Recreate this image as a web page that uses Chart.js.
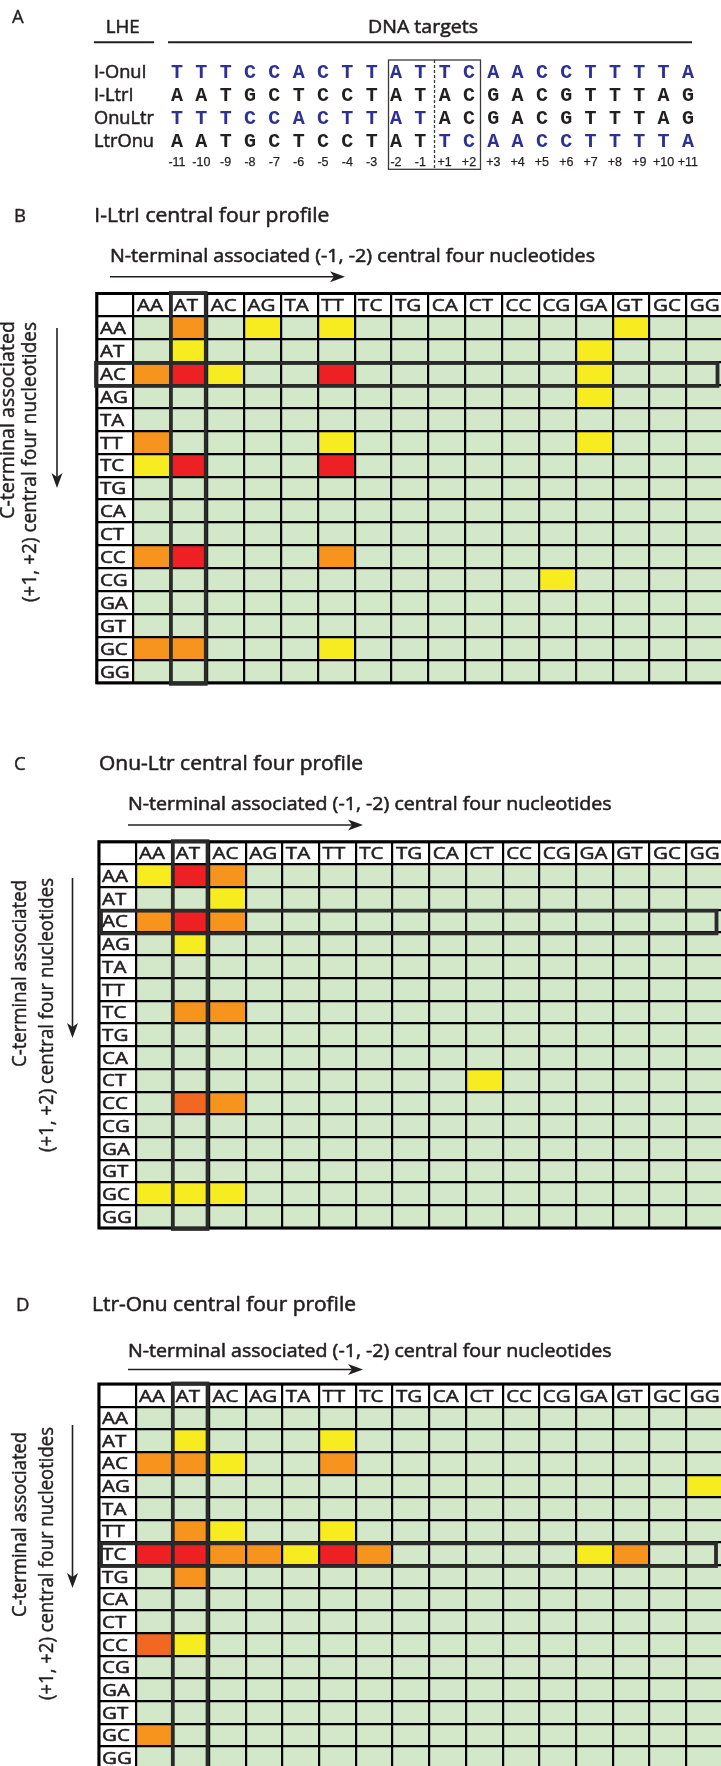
<!DOCTYPE html>
<html>
<head>
<meta charset="utf-8">
<title>Central four profiles</title>
<script src="https://cdn.jsdelivr.net/npm/chart.js@4.4.1/dist/chart.umd.min.js"></script>
<style>
  html, body { margin: 0; padding: 0; background: #fff; }
  body { position: relative; width: 721px; height: 1766px; overflow: hidden; }
  canvas { position: absolute; left: 0; }
  #notes { top: 0; z-index: 2; pointer-events: none; }
</style>
</head>
<body>
<canvas id="notes" width="721" height="1766"></canvas>
<canvas id="panelB"></canvas>
<canvas id="panelC"></canvas>
<canvas id="panelD"></canvas>
<script>
// columns = N-terminal (-1,-2) pair, rows = C-terminal (+1,+2) pair
const dinucs = ["AA", "AT", "AC", "AG", "TA", "TT", "TC", "TG", "CA", "CT", "CC", "CG", "GA", "GT", "GC", "GG"];
// 0 = none, 1 = yellow, 2 = orange, 3 = dark orange, 4 = red
const levelColors = ["#d3e8c9", "#f7ec20", "#f7941d", "#f26722", "#ed2024"];

const ltrLevels = [
  [0,2,0,1,0,1,0,0,0,0,0,0,0,1,0,0],
  [0,1,0,0,0,0,0,0,0,0,0,0,1,0,0,0],
  [2,4,1,0,0,4,0,0,0,0,0,0,1,0,0,0],
  [0,0,0,0,0,0,0,0,0,0,0,0,1,0,0,0],
  [0,0,0,0,0,0,0,0,0,0,0,0,0,0,0,0],
  [2,0,0,0,0,1,0,0,0,0,0,0,1,0,0,0],
  [1,4,0,0,0,4,0,0,0,0,0,0,0,0,0,0],
  [0,0,0,0,0,0,0,0,0,0,0,0,0,0,0,0],
  [0,0,0,0,0,0,0,0,0,0,0,0,0,0,0,0],
  [0,0,0,0,0,0,0,0,0,0,0,0,0,0,0,0],
  [2,4,0,0,0,2,0,0,0,0,0,0,0,0,0,0],
  [0,0,0,0,0,0,0,0,0,0,0,1,0,0,0,0],
  [0,0,0,0,0,0,0,0,0,0,0,0,0,0,0,0],
  [0,0,0,0,0,0,0,0,0,0,0,0,0,0,0,0],
  [2,2,0,0,0,1,0,0,0,0,0,0,0,0,0,0],
  [0,0,0,0,0,0,0,0,0,0,0,0,0,0,0,0],
];

const onuLtrLevels = [
  [1,4,2,0,0,0,0,0,0,0,0,0,0,0,0,0],
  [0,0,1,0,0,0,0,0,0,0,0,0,0,0,0,0],
  [2,4,2,0,0,0,0,0,0,0,0,0,0,0,0,0],
  [0,1,0,0,0,0,0,0,0,0,0,0,0,0,0,0],
  [0,0,0,0,0,0,0,0,0,0,0,0,0,0,0,0],
  [0,0,0,0,0,0,0,0,0,0,0,0,0,0,0,0],
  [0,2,2,0,0,0,0,0,0,0,0,0,0,0,0,0],
  [0,0,0,0,0,0,0,0,0,0,0,0,0,0,0,0],
  [0,0,0,0,0,0,0,0,0,0,0,0,0,0,0,0],
  [0,0,0,0,0,0,0,0,0,1,0,0,0,0,0,0],
  [0,3,2,0,0,0,0,0,0,0,0,0,0,0,0,0],
  [0,0,0,0,0,0,0,0,0,0,0,0,0,0,0,0],
  [0,0,0,0,0,0,0,0,0,0,0,0,0,0,0,0],
  [0,0,0,0,0,0,0,0,0,0,0,0,0,0,0,0],
  [1,1,1,0,0,0,0,0,0,0,0,0,0,0,0,0],
  [0,0,0,0,0,0,0,0,0,0,0,0,0,0,0,0],
];

const ltrOnuLevels = [
  [0,0,0,0,0,0,0,0,0,0,0,0,0,0,0,0],
  [0,1,0,0,0,1,0,0,0,0,0,0,0,0,0,0],
  [2,2,1,0,0,2,0,0,0,0,0,0,0,0,0,0],
  [0,0,0,0,0,0,0,0,0,0,0,0,0,0,0,1],
  [0,0,0,0,0,0,0,0,0,0,0,0,0,0,0,0],
  [0,2,1,0,0,1,0,0,0,0,0,0,0,0,0,0],
  [4,4,2,2,1,4,2,0,0,0,0,0,1,2,0,0],
  [0,2,0,0,0,0,0,0,0,0,0,0,0,0,0,0],
  [0,0,0,0,0,0,0,0,0,0,0,0,0,0,0,0],
  [0,0,0,0,0,0,0,0,0,0,0,0,0,0,0,0],
  [3,1,0,0,0,0,0,0,0,0,0,0,0,0,0,0],
  [0,0,0,0,0,0,0,0,0,0,0,0,0,0,0,0],
  [0,0,0,0,0,0,0,0,0,0,0,0,0,0,0,0],
  [0,0,0,0,0,0,0,0,0,0,0,0,0,0,0,0],
  [2,0,0,0,0,0,0,0,0,0,0,0,0,0,0,0],
  [0,0,0,0,0,0,0,0,0,0,0,0,0,0,0,0],
];

// panel A
const lheNames = ["I-OnuI", "I-LtrI", "OnuLtr", "LtrOnu"];
const targetSeqs = [
  "TTTCCACTTATTCAACCTTTTA",
  "AATGCTCCTATACGACGTTTAG",
  "TTTCCACTTATACGACGTTTAG",
  "AATGCTCCTATTCAACCTTTTA",
];
// which parent each half of the target comes from
const halfSource = [["OnuI", "OnuI"], ["LtrI", "LtrI"], ["OnuI", "LtrI"], ["LtrI", "OnuI"]];
const sitePositions = ["-11", "-10", "-9", "-8", "-7", "-6", "-5", "-4", "-3", "-2", "-1",
                       "+1", "+2", "+3", "+4", "+5", "+6", "+7", "+8", "+9", "+10", "+11"];

const SANS = '"Open Sans", "Liberation Sans", Arial, sans-serif';
const MONO = '"Liberation Mono", "DejaVu Sans Mono", monospace';
const INK = "#231f20";
const BLUE = "#2e3192";
const FRAME = "#2a2a2a";

function textWidth(ctx, text, size, family, weight) {
  ctx.save();
  ctx.font = `${weight || "normal"} ${size}px ${family || SANS}`;
  const w = ctx.measureText(text).width;
  ctx.restore();
  return w;
}

function put(ctx, text, x, y, o) {
  ctx.save();
  ctx.font = `${o.weight || "normal"} ${o.size}px ${o.family || SANS}`;
  ctx.fillStyle = ctx.strokeStyle = o.color || INK;
  ctx.textBaseline = o.baseline || "alphabetic";
  ctx.translate(x, y);
  if (o.rotate) ctx.rotate(o.rotate);
  const w = ctx.measureText(text).width;
  ctx.scale(o.width ? o.width / w : (o.sx || 1), o.sy || 1);
  const a = o.align || "left";
  const tx = a === "center" ? -w / 2 : a === "right" ? -w : 0;
  ctx.fillText(text, tx, 0);
  if (o.stroke) {
    ctx.lineWidth = o.stroke;
    ctx.lineJoin = "round";
    ctx.strokeText(text, tx, 0);
  }
  ctx.restore();
}

function arrow(ctx, x0, y0, x1, y1) {
  const a = Math.atan2(y1 - y0, x1 - x0);
  ctx.save();
  ctx.strokeStyle = ctx.fillStyle = INK;
  ctx.lineWidth = 1.6;
  ctx.beginPath();
  ctx.moveTo(x0, y0);
  ctx.lineTo(x1 - 10 * Math.cos(a), y1 - 10 * Math.sin(a));
  ctx.stroke();
  ctx.translate(x1, y1);
  ctx.rotate(a);
  ctx.beginPath();
  ctx.moveTo(0, 0);
  ctx.lineTo(-15, -5.5);
  ctx.lineTo(-11, 0);
  ctx.lineTo(-15, 5.5);
  ctx.closePath();
  ctx.fill();
  ctx.restore();
}

const cellFont = 17.2;
const cellSx = 26 / textWidth(document.createElement("canvas").getContext("2d"), "AA", cellFont);
const HEAVY = 0.55;

const tableText = {
  id: "tableText",
  afterDraw(chart, args, opts) {
    const { ctx, chartArea: area } = chart;
    const xs = chart.scales.x, ys = chart.scales.y;
    const band = xs.getPixelForValue(1) - xs.getPixelForValue(0);
    const left = i => xs.getPixelForValue(i) - band / 2;
    const mid = i => (ys.getPixelForValue(i) + ys.getPixelForValue(i + 1)) / 2;
    const lift = cellFont * 0.36;

    ctx.save();
    ctx.strokeStyle = "#000";
    ctx.lineWidth = 3;
    ctx.strokeRect(area.left, area.top, area.right - area.left, area.bottom - area.top);
    ctx.restore();

    dinucs.forEach((d, i) => {
      put(ctx, d, left(i + 1) + 3.4, mid(0) + lift, { size: cellFont, sx: cellSx, stroke: HEAVY });
      put(ctx, d, left(0) + 3.2, mid(i + 1) + lift, { size: cellFont, sx: cellSx, stroke: HEAVY });
    });

    ctx.save();
    ctx.strokeStyle = FRAME;
    ctx.lineWidth = 3.8;
    const c = dinucs.indexOf(opts.col) + 1;
    ctx.strokeRect(left(c) + 0.5, area.top - 0.5, band - 2, area.bottom - area.top + 1.5);
    const r = dinucs.indexOf(opts.row) + 1;
    const y0 = ys.getPixelForValue(r), y1 = ys.getPixelForValue(r + 1);
    ctx.strokeRect(opts.rowLeft, y0 + 0.8, opts.rowRight - opts.rowLeft, y1 - y0);
    ctx.restore();
  },
};

function heatmap(id, levels, box, hi) {
  const canvas = document.getElementById(id);
  const top = Math.floor(box.top - 6);
  const bottom = box.top + 17 * box.rowH;
  const W = 730;
  canvas.width = W;
  canvas.height = Math.ceil(bottom - top + 6);
  canvas.style.top = top + "px";

  const datasets = levels.map((row, r) => ({
    data: row.map((lv, c) => ({ x: dinucs[c], y: [r + 1, r + 2] })),
    backgroundColor: row.map(lv => levelColors[lv]),
    grouped: false,
    barPercentage: 1,
    categoryPercentage: 1,
    borderWidth: 0,
  }));

  const grid = { color: "#000", lineWidth: 2.2, drawTicks: false, z: 1 };

  return new Chart(canvas, {
    type: "bar",
    data: { labels: [" ", ...dinucs], datasets },
    options: {
      responsive: false,
      animation: false,
      devicePixelRatio: 1,
      layout: {
        padding: {
          left: box.left,
          top: box.top - top,
          right: W - box.right,
          bottom: canvas.height - (bottom - top),
        },
      },
      plugins: {
        legend: { display: false },
        tooltip: { enabled: false },
        tableText: hi,
      },
      scales: {
        x: {
          type: "category",
          offset: true,
          grid: { ...grid, offset: true },
          border: { display: false },
          ticks: { display: false },
          afterFit: s => { s.height = 0; },
        },
        y: {
          type: "linear",
          min: 0,
          max: 17,
          reverse: true,
          grid,
          border: { display: false },
          ticks: { display: false, stepSize: 1 },
          afterFit: s => { s.width = 0; },
        },
      },
    },
    plugins: [tableText],
  });
}

heatmap("panelB", ltrLevels,
  { left: 96.7, top: 293.5, right: 723.3, rowH: 22.9 },
  { col: "AT", row: "AC", rowLeft: 96, rowRight: 717.5 });
heatmap("panelC", onuLtrLevels,
  { left: 98.9, top: 841.7, right: 723, rowH: 22.72 },
  { col: "AT", row: "AC", rowLeft: 101, rowRight: 716.5 });
heatmap("panelD", ltrOnuLevels,
  { left: 98.9, top: 1384, right: 723, rowH: 22.65 },
  { col: "AT", row: "TC", rowLeft: 101, rowRight: 716 });

// ---- annotations ----
const ctx = document.getElementById("notes").getContext("2d");

// panel A
put(ctx, "A", 12, 23, { size: 18.5, stroke: 0.4 });
put(ctx, "LHE", 105.7, 33.3, { size: 18.6, width: 34, stroke: HEAVY });
put(ctx, "DNA targets", 368, 33.3, { size: 18.6, width: 110, stroke: HEAVY });
ctx.strokeStyle = INK;
ctx.lineWidth = 2;
ctx.beginPath();
ctx.moveTo(94, 42.3); ctx.lineTo(154, 42.3);
ctx.moveTo(168, 42.3); ctx.lineTo(692, 42.3);
ctx.stroke();

const nameSx = 60 / textWidth(ctx, "OnuLtr", 19);
const letterX = i => 177 + i * 24.33;
lheNames.forEach((name, r) => {
  const base = 78.3 + r * 22.8;
  put(ctx, name, 94, base, { size: 19, sx: nameSx, stroke: HEAVY });
  [...targetSeqs[r]].forEach((ch, i) => {
    const src = halfSource[r][i < 11 ? 0 : 1];
    put(ctx, ch, letterX(i), base, {
      size: 20, family: MONO, weight: "bold", align: "center",
      color: src === "OnuI" ? BLUE : INK,
    });
  });
});
sitePositions.forEach((p, i) => {
  put(ctx, p, letterX(i), 165.7, { size: 12.5, family: '"Liberation Sans", Arial, sans-serif', align: "center", stroke: 0.25 });
});
ctx.save();
ctx.strokeStyle = "#3a3a3a";
ctx.lineWidth = 1.3;
ctx.strokeRect(388.5, 60, 92, 109.3);
ctx.setLineDash([3, 2]);
ctx.beginPath();
ctx.moveTo(434.5, 60); ctx.lineTo(434.5, 169.3);
ctx.stroke();
ctx.restore();

// panels B, C, D
const panelNotes = [
  { tag: "B", title: "I-LtrI central four profile", tagX: 14, titleX: 94.3, base: 221.5, titleW: 235,
    nX: 110, nBase: 261.7, nW: 485, arrowY: 276.7,
    c1: [8, 321, 198], c2: [30.5, 322, 280], vX: 57, vTop: 328, vTip: 488 },
  { tag: "C", title: "Onu-Ltr central four profile", tagX: 14, titleX: 99, base: 770, titleW: 264,
    nX: 128, nBase: 810, nW: 483.5, arrowY: 825,
    c1: [20.5, 880, 187], c2: [47.5, 878, 274], vX: 72.5, vTop: 878, vTip: 1038 },
  { tag: "D", title: "Ltr-Onu central four profile", tagX: 16, titleX: 92, base: 1311, titleW: 264,
    nX: 128, nBase: 1357, nW: 483.5, arrowY: 1369.5,
    c1: [20.5, 1432, 185], c2: [47.5, 1427, 273], vX: 72.5, vTop: 1425, vTip: 1588 },
];

panelNotes.forEach(p => {
  put(ctx, p.tag, p.tagX, p.base, { size: 18.5, stroke: 0.4 });
  put(ctx, p.title, p.titleX, p.base, { size: 19.5, width: p.titleW, stroke: HEAVY });
  put(ctx, "N-terminal associated (-1, -2) central four nucleotides", p.nX, p.nBase,
    { size: 18, width: p.nW, stroke: HEAVY });
  arrow(ctx, p.nX, p.arrowY, p.nX + 235, p.arrowY);
  put(ctx, "C-terminal associated", p.c1[0], p.c1[1],
    { size: 18.5, sy: 1.12, rotate: -Math.PI / 2, align: "right", baseline: "middle", width: p.c1[2], stroke: 0.4 });
  put(ctx, "(+1, +2) central four nucleotides", p.c2[0], p.c2[1],
    { size: 18.5, sy: 1.12, rotate: -Math.PI / 2, align: "right", baseline: "middle", width: p.c2[2], stroke: 0.4 });
  arrow(ctx, p.vX, p.vTop, p.vX, p.vTip);
});
</script>
</body>
</html>
